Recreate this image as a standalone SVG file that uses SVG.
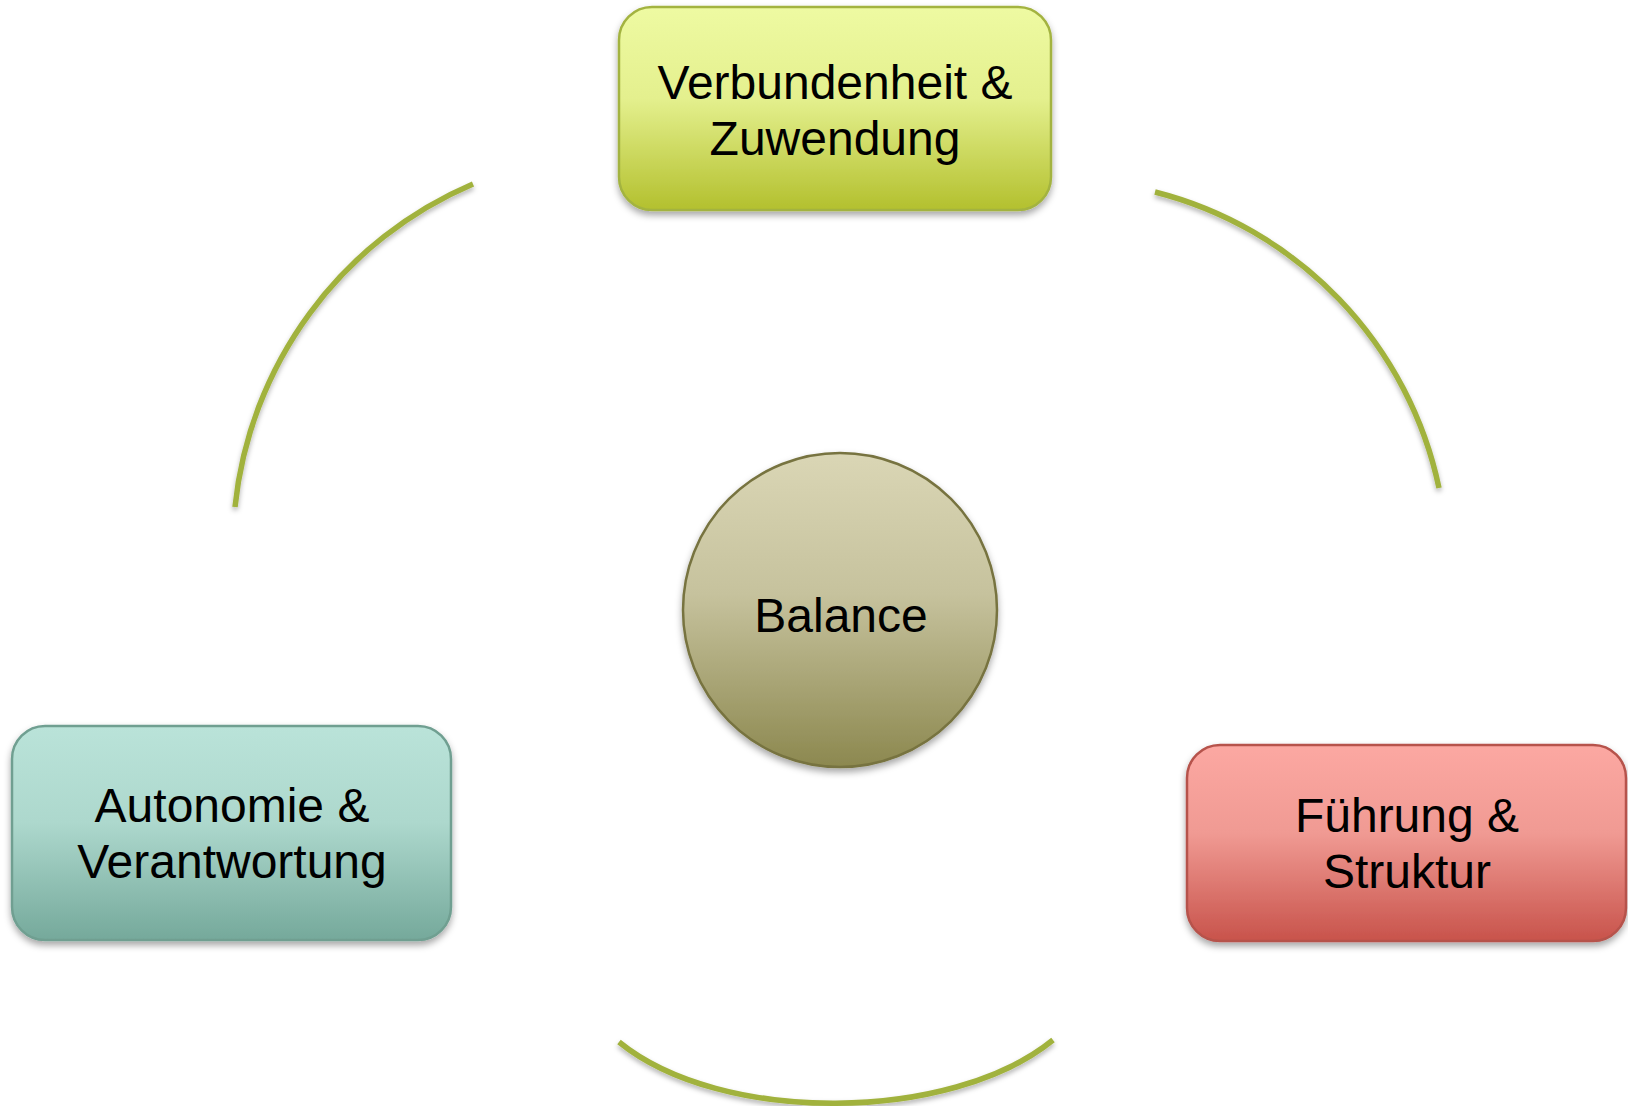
<svg xmlns="http://www.w3.org/2000/svg" width="1628" height="1106" viewBox="0 0 1628 1106">
<style>
.lbl{font-family:"Liberation Sans",Arial,sans-serif;font-size:48px;fill:#000;text-anchor:middle}
.arc{fill:none;stroke:#A1B23E;stroke-width:5.5}
.box{stroke-width:2.5}
</style>
<defs>
<filter id="sh" x="-10%" y="-10%" width="120%" height="130%">
<feDropShadow dx="0" dy="4" stdDeviation="3.5" flood-color="#000" flood-opacity="0.35"/>
</filter>
<filter id="sha" x="-10%" y="-10%" width="120%" height="130%">
<feDropShadow dx="0" dy="3" stdDeviation="2.5" flood-color="#000" flood-opacity="0.3"/>
</filter>
<linearGradient id="gTop" x1="0" y1="0" x2="0" y2="1">
<stop offset="0" stop-color="#EEFAA2"/><stop offset="0.45" stop-color="#E4F08E"/><stop offset="1" stop-color="#B3C02E"/>
</linearGradient>
<linearGradient id="gLeft" x1="0" y1="0" x2="0" y2="1">
<stop offset="0" stop-color="#BAE3D9"/><stop offset="0.45" stop-color="#ADD8CD"/><stop offset="1" stop-color="#75A99B"/>
</linearGradient>
<linearGradient id="gRight" x1="0" y1="0" x2="0" y2="1">
<stop offset="0" stop-color="#FCA8A2"/><stop offset="0.45" stop-color="#F09A93"/><stop offset="1" stop-color="#C8534B"/>
</linearGradient>
<linearGradient id="gCirc" x1="0" y1="0" x2="0" y2="1">
<stop offset="0" stop-color="#DAD6B5"/><stop offset="0.45" stop-color="#C6C29D"/><stop offset="1" stop-color="#8C884F"/>
</linearGradient>
</defs>
<g id="connectors" filter="url(#sha)">
<path class="arc" d="M473,184 A395,395 0 0 0 235,507"/>
<path class="arc" d="M1155,192 A388,388 0 0 1 1439,488"/>
<path class="arc" d="M619,1042 C721,1125 951,1123 1053,1040"/>
</g>
<g id="node-top">
<rect class="box" x="619" y="7" width="432" height="203" rx="33" fill="url(#gTop)" stroke="#A3B340" filter="url(#sh)"/>
<text class="lbl" x="835" y="99">Verbundenheit &amp;</text>
<text class="lbl" x="835" y="155">Zuwendung</text>
</g>
<g id="node-left">
<rect class="box" x="12" y="726" width="439" height="214" rx="33" fill="url(#gLeft)" stroke="#6F9F91" filter="url(#sh)"/>
<text class="lbl" x="232" y="822">Autonomie &amp;</text>
<text class="lbl" x="232" y="878">Verantwortung</text>
</g>
<g id="node-right">
<rect class="box" x="1187" y="745" width="439" height="196" rx="33" fill="url(#gRight)" stroke="#B6524B" filter="url(#sh)"/>
<text class="lbl" x="1407" y="832">Führung &amp;</text>
<text class="lbl" x="1407" y="888">Struktur</text>
</g>
<g id="node-center">
<circle class="box" cx="840" cy="610" r="157" fill="url(#gCirc)" stroke="#77733F" filter="url(#sh)"/>
<text class="lbl" x="841" y="632">Balance</text>
</g>
</svg>
